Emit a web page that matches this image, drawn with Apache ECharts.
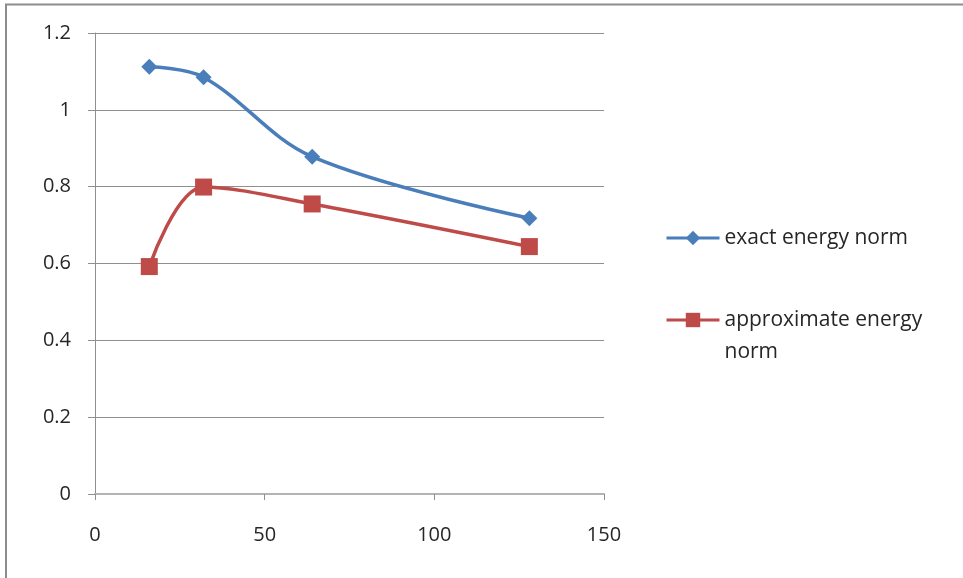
<!DOCTYPE html>
<html>
<head>
<meta charset="utf-8">
<script src="https://cdn.jsdelivr.net/npm/echarts@6/dist/echarts.min.js"></script>
<style>
  html, body { margin: 0; padding: 0; background: #fff; }
  #chart { width: 963px; height: 578px; }
</style>
</head>
<body>
<div id="chart"></div>
<script>
// values
const xValues = [16, 32, 64, 128]
const exactNorm = [1.112, 1.085, 0.878, 0.718]
const approxNorm = [0.592, 0.799, 0.755, 0.644]
const seriesNames = ['exact energy norm', 'approximate energy norm']

const pairs = (ys) => xValues.map((x, i) => [x, ys[i]])

const chart = echarts.init(document.getElementById('chart'))
const font = 'Open Sans'
const axisGray = '#8f8f8f'
const textColor = '#262626'

const option = {
  animation: false,
  textStyle: { fontFamily: font },
  graphic: [{
    type: 'rect',
    shape: { x: 6, y: 4.5, width: 2000, height: 2000 },
    style: { fill: 'none', stroke: '#8c8c8c', lineWidth: 2 }
  }],
  grid: { left: 95, right: 359, top: 33, bottom: 84 },
  legend: {
    orient: 'vertical',
    left: 665,
    top: 222,
    padding: 0,
    itemWidth: 53,
    itemHeight: 18,
    itemGap: 18,
    lineStyle: { width: 3 },
    textStyle: { fontSize: 21, color: textColor, fontFamily: font, lineHeight: 32 },
    // the long name wraps; keep its icon level with the first line as in the picture
    formatter: (name) => name === seriesNames[1] ? ' \napproximate energy\nnorm' : name,
    data: seriesNames
  },
  xAxis: {
    type: 'value',
    min: 0,
    max: 150,
    interval: 50,
    axisLine: { lineStyle: { color: '#b4b4b4', width: 2 } },
    axisTick: { show: true, length: 6, lineStyle: { color: axisGray } },
    axisLabel: { color: textColor, fontSize: 20, margin: 31, fontFamily: font },
    splitLine: { show: false }
  },
  yAxis: {
    type: 'value',
    min: 0,
    max: 1.2,
    interval: 0.2,
    axisLine: { show: true, lineStyle: { color: axisGray } },
    axisTick: { show: true, length: 7, lineStyle: { color: axisGray } },
    axisLabel: { color: textColor, fontSize: 20, margin: 24, fontFamily: font },
    splitLine: { lineStyle: { color: axisGray } }
  },
  series: [
    {
      name: seriesNames[0],
      type: 'line',
      data: pairs(exactNorm),
      smooth: 0.35,
      symbol: 'diamond',
      symbolSize: 16,
      itemStyle: { color: '#4a7ebb' },
      lineStyle: { color: '#4a7ebb', width: 3.5 }
    },
    {
      name: seriesNames[1],
      type: 'line',
      data: pairs(approxNorm),
      smooth: 0.35,
      symbol: 'rect',
      symbolSize: 17,
      itemStyle: { color: '#be4b48' },
      lineStyle: { color: '#be4b48', width: 3.5 }
    }
  ]
}

chart.setOption(option)
</script>
</body>
</html>
